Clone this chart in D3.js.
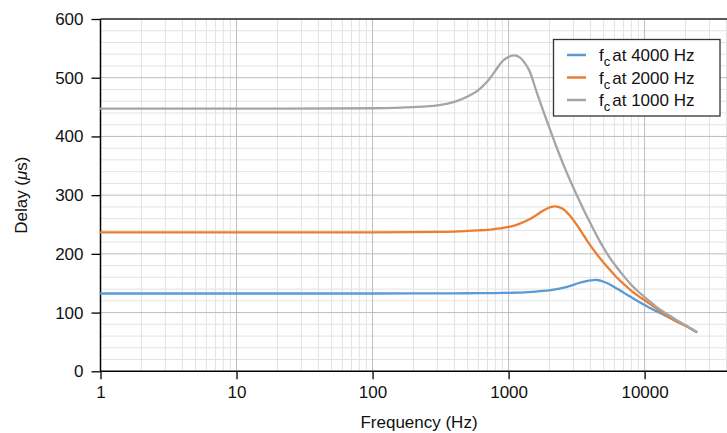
<!DOCTYPE html>
<html>
<head>
<meta charset="utf-8">
<script src="https://cdn.jsdelivr.net/npm/d3@7"></script>
<style>
  html, body { margin: 0; padding: 0; background: #fff; }
  svg { display: block; font-family: "Liberation Sans", Arial, Helvetica, sans-serif; }
</style>
</head>
<body>
<svg id="chart" width="727" height="433"></svg>
<script>
// ---- data ----
const freqs = [1, 10, 100, 200, 300, 400, 500, 600, 700, 800, 900, 1000, 1100, 1200, 1400, 1600, 1800, 2000, 2200, 2500, 2800, 3200, 3600, 4000, 4500, 5000, 5600, 6300, 7000, 8000, 9000, 10000, 12000, 14000, 17000, 20000, 24000];
const delay4000 = [132.5, 132.5, 132.5, 132.6, 132.7, 132.8, 132.9, 133, 133.1, 133.2, 133.4, 133.6, 133.8, 134.1, 134.8, 135.7, 136.8, 138, 139.5, 142, 145, 149.5, 152.8, 154.8, 155.5, 152.5, 147.5, 140.5, 134, 126, 119, 113, 103, 95.5, 85.5, 77.5, 67];
const delay2000 = [236.5, 236.5, 236.5, 237, 237.5, 238, 239, 240, 241, 242.5, 244, 246, 248, 251, 258, 266, 274, 279, 281, 277, 266, 248, 230, 214, 198, 185, 172, 159, 149, 137, 128, 121, 108, 97.5, 85.5, 77.5, 67.5];
const delay1000 = [447.5, 447.5, 448, 450, 453, 459, 468, 479, 494, 512, 528, 535.5, 538, 535, 515, 477, 443, 414, 388, 355, 328, 298, 273, 252, 229, 210, 192, 176, 162.5, 147, 135.5, 126.5, 111, 100, 88, 78.5, 67.5];
const seriesNames = ["at 4000 Hz", "at 2000 Hz", "at 1000 Hz"];
const seriesColors = ["#5b9bd5", "#ed7d31", "#a5a5a5"];
const xTickLabels = [1, 10, 100, 1000, 10000];
const yTickLabels = [0, 100, 200, 300, 400, 500, 600];
const xTitle = "Frequency (Hz)";

// ---- layout ----
const pL = 100.5, pR = 726.5, pT = 19, pB = 371.3;
const x = d3.scaleLog().domain([1, 40000]).range([pL, pR]);
const y = d3.scaleLinear().domain([0, 600]).range([pB, pT]);

const svg = d3.select("#chart");
const fontSize = 17;

// grid: minor
const xMinor = x.ticks().filter(v => v <= 40000);
const yMinor = d3.range(0, 601, 20);
const grid = svg.append("g");
grid.selectAll("line.xmin").data(xMinor.filter(v => Math.abs(Math.log10(v) - Math.round(Math.log10(v))) > 1e-9)).join("line")
  .attr("x1", d => x(d)).attr("x2", d => x(d)).attr("y1", pT).attr("y2", pB)
  .attr("stroke", "#e3e3e3").attr("stroke-width", 1);
grid.selectAll("line.ymin").data(yMinor.filter(v => v % 100 !== 0)).join("line")
  .attr("x1", pL).attr("x2", 727).attr("y1", d => y(d)).attr("y2", d => y(d))
  .attr("stroke", "#e3e3e3").attr("stroke-width", 1);
// grid: major
grid.selectAll("line.xmaj").data(xTickLabels.slice(1)).join("line")
  .attr("x1", d => x(d)).attr("x2", d => x(d)).attr("y1", pT).attr("y2", pB)
  .attr("stroke", "#bdbdbd").attr("stroke-width", 1);
grid.selectAll("line.ymaj").data(yTickLabels.filter(v => v > 0 && v < 600)).join("line")
  .attr("x1", pL).attr("x2", 727).attr("y1", d => y(d)).attr("y2", d => y(d))
  .attr("stroke", "#bdbdbd").attr("stroke-width", 1);

// axes
const xAxis = d3.axisBottom(x).tickValues(xTickLabels).tickFormat(d3.format("d")).tickSize(8).tickPadding(7);
const yAxis = d3.axisLeft(y).tickValues(yTickLabels).tickSize(9).tickPadding(8);

const gx = svg.append("g").attr("transform", `translate(0,${pB})`).call(xAxis);
const gy = svg.append("g").attr("transform", `translate(${pL},0)`).call(yAxis);
[gx, gy].forEach(g => {
  g.select(".domain").remove();
  g.selectAll(".tick line").attr("stroke", "#000").attr("stroke-width", 1.3);
  g.selectAll(".tick text").attr("fill", "#111").style("font-size", fontSize + "px")
    .style("font-family", '"Liberation Sans", Arial, sans-serif');
});
// axis lines (left, bottom, top)
svg.append("line").attr("x1", pL).attr("x2", pL).attr("y1", pT).attr("y2", pB)
  .attr("stroke", "#000").attr("stroke-width", 1.5);
svg.append("line").attr("x1", pL).attr("x2", 727).attr("y1", pB).attr("y2", pB)
  .attr("stroke", "#000").attr("stroke-width", 1.5);
svg.append("line").attr("x1", pL).attr("x2", 727).attr("y1", pT).attr("y2", pT)
  .attr("stroke", "#222").attr("stroke-width", 1.5);

// axis titles
svg.append("text").attr("x", 419).attr("y", 428).attr("text-anchor", "middle")
  .style("font-size", fontSize + "px").attr("fill", "#111").text(xTitle);
const yt = svg.append("text").attr("transform", `translate(27,${(pT + pB) / 2}) rotate(-90)`)
  .attr("text-anchor", "middle").style("font-size", fontSize + "px").attr("fill", "#111");
yt.append("tspan").text("Delay (");
yt.append("tspan").attr("font-style", "italic").text("\u03bc");
yt.append("tspan").text("s)");

// lines
const allSeries = [delay4000, delay2000, delay1000];
const line = d3.line().x((d, i) => x(freqs[i])).y(d => y(d)).curve(d3.curveCatmullRom.alpha(0.5));
svg.append("g").selectAll("path").data(allSeries).join("path")
  .attr("d", d => line(d)).attr("fill", "none")
  .attr("stroke", (d, i) => seriesColors[i]).attr("stroke-width", 2.3)
  .attr("stroke-linejoin", "round").attr("stroke-linecap", "round");

// legend
const lg = svg.append("g");
lg.append("rect").attr("x", 553.5).attr("y", 39.5).attr("width", 166.5).attr("height", 76.5)
  .attr("fill", "#fff").attr("stroke", "#333").attr("stroke-width", 1.3);
seriesNames.forEach((name, i) => {
  const cy = 55 + i * 22.5;
  lg.append("line").attr("x1", 567).attr("x2", 586).attr("y1", cy).attr("y2", cy)
    .attr("stroke", seriesColors[i]).attr("stroke-width", 2.5);
  const t = lg.append("text").attr("x", 599).attr("y", cy + 6)
    .style("font-size", fontSize + "px").attr("fill", "#111");
  t.append("tspan").text("f");
  t.append("tspan").attr("dy", 5).style("font-size", "13px").text("c");
  t.append("tspan").attr("dy", -5).attr("dx", 2).text(name);
});
</script>
</body>
</html>
